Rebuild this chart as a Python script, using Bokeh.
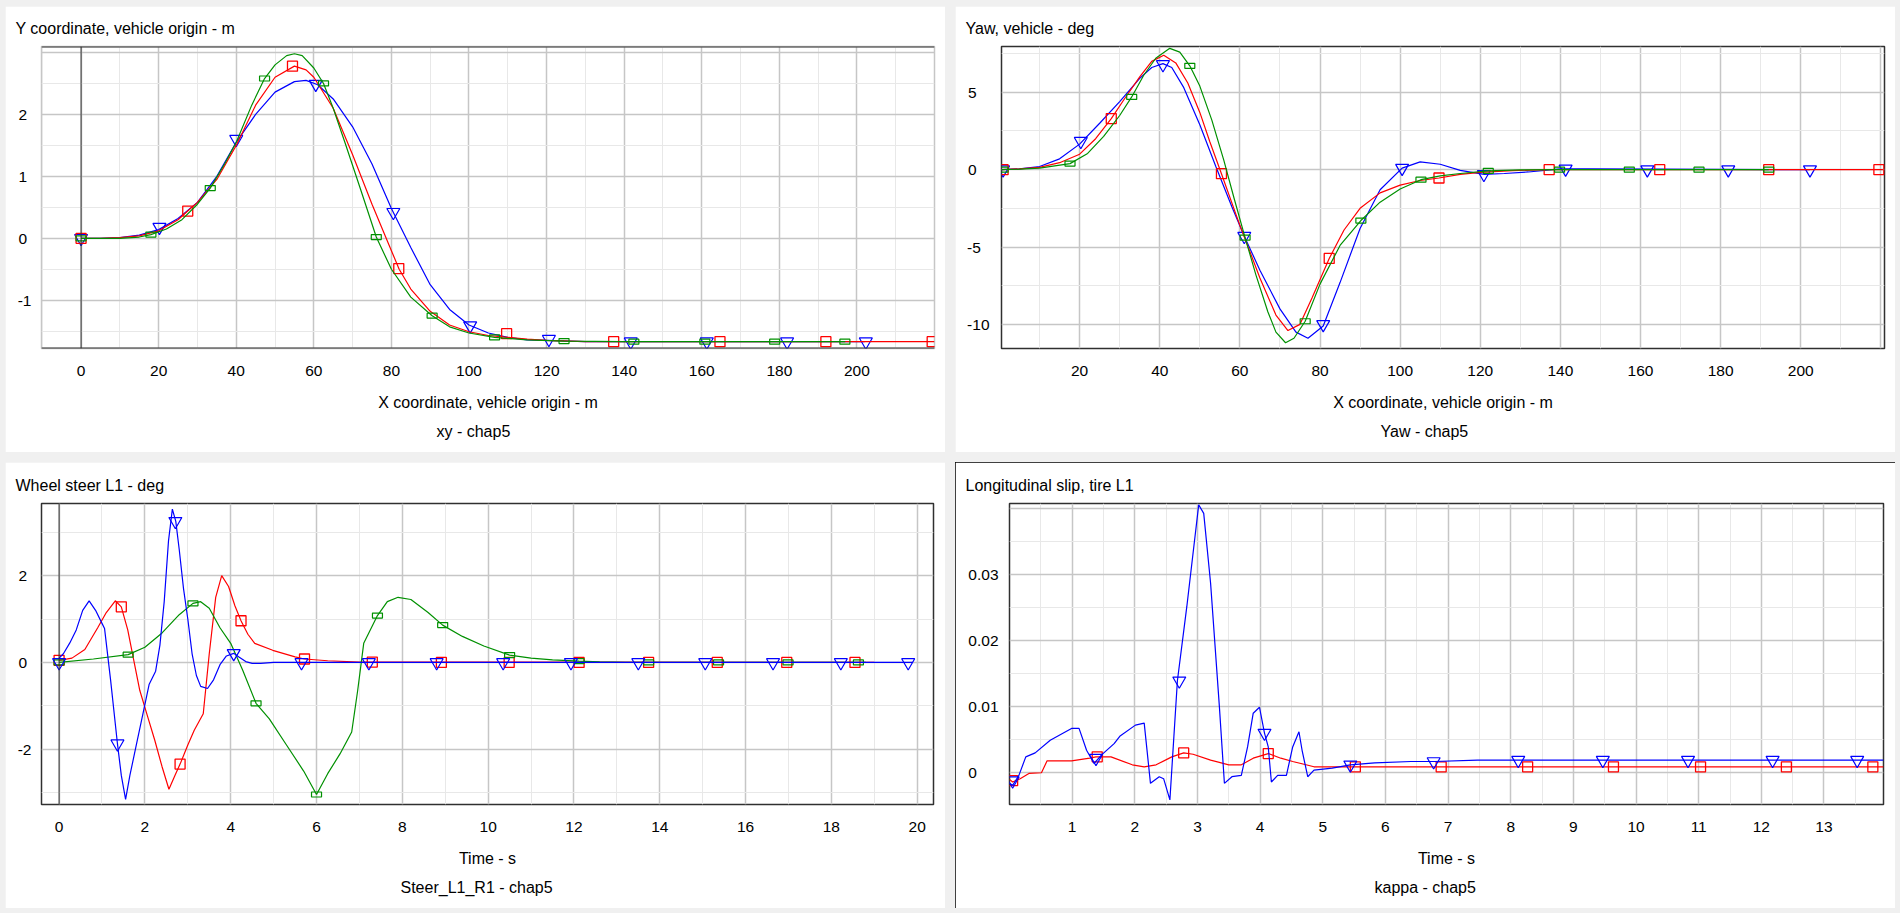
from bokeh.plotting import figure
from bokeh.models import Range1d, FixedTicker, Span, Title
from bokeh.layouts import row, column
from bokeh.embed import file_html
from bokeh.resources import INLINE

FONT = "Liberation Sans"
BLUE, RED, GREEN = "#0000ff", "#ff0000", "#009000"
NB = "\u00a0"

# ---------------- Panel 1: Y vs X ----------------
p1_titles = ["Y coordinate, vehicle origin - m", "X coordinate, vehicle origin - m", "xy - chap5"]
p1_xticks = [0, 20, 40, 60, 80, 100, 120, 140, 160, 180, 200]
p1_xtick_labels = ["0", "20", "40", "60", "80", "100", "120", "140", "160", "180", "200"]
p1_yticks = [2, 1, 0, -1]
p1_ytick_labels = ["2", "1", "0", "-1"]
p1_xmajor = [0, 20, 40, 60, 80, 100, 120, 140, 160, 180, 200, 220]
p1_xminor = [-10, 10, 30, 50, 70, 90, 110, 130, 150, 170, 190, 210]
p1_ymajor = [-1, 0, 1, 2, 3]
p1_yminor = [-1.5, -0.5, 0.5, 1.5, 2.5]

blue1_x = [0, 5, 10, 15, 20, 25, 30, 35, 40, 45, 50, 55, 58, 61, 65, 70, 75, 80, 85, 90, 95, 100, 105, 110, 115, 120, 130, 140, 202]
blue1_y = [0, 0, 0.01, 0.05, 0.14, 0.32, 0.58, 1.0, 1.55, 2.0, 2.36, 2.53, 2.55, 2.48, 2.25, 1.8, 1.2, 0.48, -0.15, -0.75, -1.15, -1.4, -1.53, -1.6, -1.64, -1.65, -1.67, -1.67, -1.67]
red1_x = [0, 5, 10, 15, 20, 25, 27.5, 30, 35, 40, 45, 50, 55, 58, 60, 65, 70, 75, 80, 82, 85, 90, 95, 100, 105, 110, 115, 120, 130, 140, 220]
red1_y = [0, 0, 0.01, 0.04, 0.12, 0.3, 0.44, 0.58, 0.95, 1.5, 2.15, 2.6, 2.78, 2.72, 2.6, 2.1, 1.35, 0.55, -0.2, -0.5, -0.82, -1.18, -1.4, -1.51, -1.57, -1.6, -1.63, -1.65, -1.67, -1.67, -1.67]
green1_x = [0, 5, 10, 15, 18, 22, 26, 30, 33.3, 37, 40, 44, 47.3, 50, 53, 55, 57, 60, 62.5, 65, 68, 72, 76.1, 80, 85, 90.5, 95, 100, 106.6, 115, 124.5, 140, 197]
green1_y = [0, 0, 0, 0.02, 0.06, 0.15, 0.3, 0.55, 0.81, 1.2, 1.55, 2.15, 2.58, 2.8, 2.95, 2.98, 2.95, 2.75, 2.5, 2.1, 1.55, 0.8, 0.02, -0.5, -0.95, -1.25, -1.43, -1.53, -1.6, -1.64, -1.66, -1.67, -1.67]
bm1_x = [0, 20.2, 40, 60.5, 80.5, 100.3, 120.6, 141.7, 161.3, 182, 202.3]
bm1_y = [0, 0.18, 1.6, 2.49, 0.42, -1.41, -1.63, -1.67, -1.67, -1.67, -1.67]
rm1_x = [0, 27.5, 54.5, 81.9, 109.7, 137.3, 164.7, 192, 219.4]
rm1_y = [0, 0.44, 2.78, -0.49, -1.54, -1.67, -1.67, -1.67, -1.67]
gm1_x = [0, 18, 33.3, 47.3, 62.5, 76.1, 90.5, 106.6, 124.5, 142.5, 160.8, 178.8, 196.9]
gm1_y = [0, 0.06, 0.81, 2.58, 2.5, 0.02, -1.25, -1.6, -1.66, -1.67, -1.67, -1.67, -1.67]

# ---------------- Panel 2: Yaw vs X ----------------
p2_titles = ["Yaw, vehicle - deg", "X coordinate, vehicle origin - m", "Yaw - chap5"]
p2_xticks = [20, 40, 60, 80, 100, 120, 140, 160, 180, 200]
p2_xtick_labels = ["20", "40", "60", "80", "100", "120", "140", "160", "180", "200"]
p2_yticks = [5, 0, -5, -10]
p2_ytick_labels = ["5", "0", "-5", "-10"]
p2_xmajor = [20, 40, 60, 80, 100, 120, 140, 160, 180, 200, 220]
p2_xminor = [10, 30, 50, 70, 90, 110, 130, 150, 170, 190, 210]
p2_ymajor = [-10, -5, 0, 5]
p2_yminor = [-7.5, -2.5, 2.5, 7.5]

blue2_x = [0.5, 5, 10, 15, 20, 25, 30, 35, 38, 40.8, 43, 46, 50, 54, 58, 61.1, 65, 70, 74, 77, 80.8, 85, 90, 95, 100.5, 105, 110, 115, 121, 126, 132, 140, 147, 202.3]
blue2_y = [0, 0.05, 0.2, 0.7, 1.65, 3.0, 4.4, 5.9, 6.6, 6.85, 6.6, 5.3, 2.9, 0.2, -2.4, -4.3, -6.5, -9.0, -10.5, -10.9, -10.1, -7.3, -3.8, -1.3, 0.1, 0.5, 0.35, -0.05, -0.3, -0.25, -0.15, 0.05, 0.05, 0]
red2_x = [0.5, 5, 10, 15, 20, 24, 27.9, 31, 35, 38, 41, 44, 47, 50, 52.5, 55.4, 60, 65, 69, 72, 75, 78, 82.3, 86, 90, 95, 100, 105, 109.7, 115, 120, 128, 137, 220.5]
red2_y = [0, 0.05, 0.15, 0.45, 1.0, 2.0, 3.3, 4.5, 6.0, 7.0, 7.4, 6.9, 5.6, 3.7, 1.8, -0.26, -3.6, -7.0, -9.4, -10.4, -10.0, -8.3, -5.74, -3.9, -2.5, -1.5, -1.0, -0.7, -0.54, -0.3, -0.18, -0.06, 0, 0]
green2_x = [0.5, 5, 10, 17.6, 22, 26, 30, 33, 36, 39, 42.5, 45, 47.5, 50, 53, 56, 58.5, 61.3, 64, 67, 69, 71.4, 73.5, 76.3, 80, 85, 90.2, 95, 100, 105.2, 110, 115, 122, 130, 140, 192]
green2_y = [0, 0.03, 0.1, 0.39, 1.05, 2.15, 3.5, 4.7, 6.1, 7.2, 7.84, 7.6, 6.71, 5.4, 3.2, 0.6, -1.8, -4.39, -6.8, -9.2, -10.5, -11.19, -10.9, -9.8, -7.4, -4.9, -3.29, -2.1, -1.25, -0.65, -0.4, -0.25, -0.08, -0.02, 0, 0]
bm2_x = [0.9, 20.3, 40.8, 61.1, 80.8, 100.5, 120.9, 141.3, 161.7, 181.9, 202.3]
bm2_y = [0, 1.84, 6.8, -4.3, -10.0, 0.1, -0.3, 0.05, 0, 0, 0]
rm2_x = [0.9, 27.9, 55.4, 82.3, 109.7, 137.2, 164.8, 192, 219.5]
rm2_y = [0, 3.3, -0.26, -5.74, -0.54, 0, 0, 0, 0]
gm2_x = [0.9, 17.6, 33, 47.5, 61.3, 76.3, 90.2, 105.2, 122, 139.8, 157.2, 174.6, 192]
gm2_y = [0, 0.39, 4.7, 6.71, -4.39, -9.8, -3.29, -0.65, -0.08, 0, 0, 0, 0]

# ---------------- Panel 3: Wheel steer vs time ----------------
p3_titles = ["Wheel steer L1 - deg", "Time - s", "Steer_L1_R1 - chap5"]
p3_xticks = [0, 2, 4, 6, 8, 10, 12, 14, 16, 18, 20]
p3_xtick_labels = ["0", "2", "4", "6", "8", "10", "12", "14", "16", "18", "20"]
p3_yticks = [2, 0, -2]
p3_ytick_labels = ["2", "0", "-2"]
p3_xmajor = [0, 2, 4, 6, 8, 10, 12, 14, 16, 18, 20]
p3_xminor = [1, 3, 5, 7, 9, 11, 13, 15, 17, 19]
p3_ymajor = [-2, 0, 2]
p3_yminor = [-3, -1, 1, 3]

blue3_t = [0, 0.1, 0.25, 0.4, 0.55, 0.7, 0.85, 1.0, 1.06, 1.2, 1.36, 1.45, 1.55, 1.65, 1.8, 1.95, 2.1, 2.25, 2.35, 2.45, 2.55, 2.64, 2.72, 2.8, 2.9, 3.0, 3.1, 3.2, 3.3, 3.46, 3.6, 3.75, 3.9, 4.07, 4.2, 4.35, 4.5, 4.7, 5.0, 19.9]
blue3_s = [0.1, 0.2, 0.45, 0.75, 1.2, 1.42, 1.2, 0.9, 0.78, -0.4, -1.87, -2.6, -3.15, -2.6, -1.9, -1.2, -0.5, -0.2, 0.4, 1.4, 2.8, 3.53, 3.25, 2.6, 1.7, 1.0, 0.2, -0.3, -0.55, -0.6, -0.4, -0.05, 0.15, 0.21, 0.12, 0.02, -0.02, -0.02, 0, 0]
red3_t = [0, 0.3, 0.6, 0.9, 1.1, 1.31, 1.45, 1.6, 1.75, 1.88, 2.05, 2.23, 2.4, 2.56, 2.7, 2.82, 3.0, 3.15, 3.36, 3.5, 3.65, 3.79, 3.95, 4.1, 4.24, 4.4, 4.56, 4.98, 5.5, 5.72, 6.26, 7.0, 19.0]
red3_s = [0.05, 0.1, 0.3, 0.8, 1.15, 1.42, 1.28, 0.75, 0.0, -0.64, -1.2, -1.79, -2.4, -2.92, -2.6, -2.34, -1.9, -1.56, -1.18, 0.2, 1.5, 2.0, 1.75, 1.3, 0.96, 0.65, 0.44, 0.28, 0.13, 0.08, 0.04, 0.01, 0]
green3_t = [0, 0.8, 1.61, 2.0, 2.4, 2.8, 3.12, 3.3, 3.5, 3.75, 4.0, 4.28, 4.59, 4.9, 5.3, 5.7, 6.0, 6.26, 6.55, 6.82, 6.96, 7.1, 7.42, 7.65, 7.9, 8.2, 8.6, 8.94, 9.4, 9.9, 10.5, 11.0, 11.5, 12.12, 12.6, 13.2, 18.8]
green3_s = [0, 0.08, 0.18, 0.35, 0.68, 1.1, 1.36, 1.4, 1.25, 0.8, 0.44, -0.18, -0.94, -1.3, -1.9, -2.5, -3.04, -2.56, -2.1, -1.6, -0.64, 0.44, 1.08, 1.4, 1.5, 1.45, 1.15, 0.86, 0.6, 0.38, 0.17, 0.1, 0.06, 0.03, 0.015, 0.005, 0]
bm3_t = [0, 1.36, 2.71, 4.07, 5.65, 7.22, 8.8, 10.35, 11.93, 13.5, 15.06, 16.64, 18.22, 19.79]
bm3_s = [0, -1.87, 3.25, 0.21, 0, 0, 0, 0, 0, 0, 0, 0, 0, 0]
rm3_t = [0, 1.45, 2.82, 4.24, 5.72, 7.3, 8.91, 10.49, 12.12, 13.74, 15.34, 16.96, 18.55]
rm3_s = [0.05, 1.28, -2.34, 0.96, 0.08, 0.01, 0, 0, 0, 0, 0, 0, 0]
gm3_t = [0, 1.61, 3.12, 4.59, 6.0, 7.42, 8.94, 10.5, 12.12, 13.74, 15.37, 16.99, 18.63]
gm3_s = [0, 0.18, 1.36, -0.94, -3.04, 1.08, 0.86, 0.17, 0.03, 0, 0, 0, 0]

# ---------------- Panel 4: Longitudinal slip vs time ----------------
p4_titles = ["Longitudinal slip, tire L1", "Time - s", "kappa - chap5"]
p4_xticks = [1, 2, 3, 4, 5, 6, 7, 8, 9, 10, 11, 12, 13]
p4_xtick_labels = ["1", "2", "3", "4", "5", "6", "7", "8", "9", "10", "11", "12", "13"]
p4_yticks = [0.03, 0.02, 0.01, 0]
p4_ytick_labels = ["0.03", "0.02", "0.01", "0"]
p4_xmajor = [0, 1, 2, 3, 4, 5, 6, 7, 8, 9, 10, 11, 12, 13]
p4_xminor = [0.5, 1.5, 2.5, 3.5, 4.5, 5.5, 6.5, 7.5, 8.5, 9.5, 10.5, 11.5, 12.5, 13.5]
p4_ymajor = [0, 0.01, 0.02, 0.03, 0.04]
p4_yminor = [0.005, 0.015, 0.025, 0.035]

blue4_t = [0, 0.05, 0.15, 0.26, 0.41, 0.65, 0.99, 1.11, 1.23, 1.35, 1.47, 1.67, 1.76, 2.01, 2.15, 2.25, 2.39, 2.46, 2.56, 2.68, 2.83, 3.02, 3.10, 3.21, 3.35, 3.43, 3.55, 3.70, 3.80, 3.89, 3.99, 4.07, 4.13, 4.18, 4.28, 4.42, 4.52, 4.62, 4.67, 4.76, 4.86, 5.15, 5.44, 5.83, 6.41, 6.79, 7.47, 13.95]
blue4_k = [-0.0016, -0.0019, -0.0004, 0.0024, 0.003, 0.0049, 0.0067, 0.0067, 0.0034, 0.0014, 0.0027, 0.0044, 0.0055, 0.0072, 0.0075, -0.0016, -0.0006, -0.0009, -0.0041, 0.0139, 0.0251, 0.0405, 0.0392, 0.0286, 0.01, -0.0016, -0.0006, -0.0004, 0.0039, 0.009, 0.0099, 0.006, 0.0039, -0.0014, -0.0004, -0.0004, 0.0039, 0.0062, 0.0034, -0.0006, 0.0004, 0.0007, 0.0012, 0.0015, 0.0017, 0.0017, 0.0019, 0.0019]
red4_t = [0, 0.05, 0.17, 0.31, 0.51, 0.6, 0.99, 1.28, 1.38, 1.62, 1.96, 2.15, 2.34, 2.59, 2.78, 2.93, 3.21, 3.5, 3.7, 3.89, 4.13, 4.33, 4.52, 4.86, 13.95]
red4_k = [-0.001, -0.0014, -0.0009, -0.0001, 0.0, 0.0018, 0.0018, 0.0022, 0.0024, 0.0024, 0.0012, 0.0009, 0.0012, 0.0024, 0.003, 0.0028, 0.0019, 0.0012, 0.0012, 0.0022, 0.0029, 0.0022, 0.0017, 0.0009, 0.0009]
bm4_t = [0.05, 1.38, 2.71, 4.07, 5.44, 6.77, 8.12, 9.47, 10.83, 12.18, 13.53]
bm4_k = [-0.0012, 0.0022, 0.0139, 0.006, 0.0012, 0.0017, 0.0019, 0.0019, 0.0019, 0.0019, 0.0019]
rm4_t = [0.05, 1.4, 2.78, 4.13, 5.52, 6.89, 8.27, 9.64, 11.03, 12.4, 13.78]
rm4_k = [-0.0012, 0.0024, 0.003, 0.0029, 0.0009, 0.0009, 0.0009, 0.0009, 0.0009, 0.0009, 0.0009]

# Approximate Arial advance widths (em) used to left-align right-aligned tick labels
CHAR_W = {"-": 0.333, ".": 0.278}


def text_em(s):
    return sum(CHAR_W.get(c, 0.556) for c in s)


def left_pad(labels):
    wmax = max(text_em(s) for s in labels)
    out = []
    for s in labels:
        n = int(round((wmax - text_em(s)) / 0.278))
        out.append(s + NB * n)
    return out


def make_panel(xr, yr, borders, titles, xticks, xtick_labels, yticks, ytick_labels,
               xmajor, xminor, ymajor, yminor, ystandoff, title_off, sub_off,
               outline="#303030"):
    left, right, top, bottom = borders
    p = figure(width=940, height=446, output_backend="svg", toolbar_location=None,
               x_range=Range1d(*xr), y_range=Range1d(*yr), title=titles[0],
               min_border_left=left, min_border_right=right,
               min_border_top=top, min_border_bottom=bottom)
    p.background_fill_color = "white"
    p.border_fill_color = "white"
    p.outline_line_color = outline
    p.outline_line_width = 1.5
    # title (top-left)
    p.title.align = "left"
    p.title.offset = title_off
    p.title.text_font = FONT
    p.title.text_font_size = "16px"
    p.title.text_font_style = "normal"
    p.title.text_color = "black"
    p.title.standoff = 19
    # grids
    p.xgrid.ticker = FixedTicker(ticks=xmajor, minor_ticks=xminor)
    p.ygrid.ticker = FixedTicker(ticks=ymajor, minor_ticks=yminor)
    for g in (p.xgrid, p.ygrid):
        g.grid_line_color = "#c6c6c6"
        g.grid_line_width = 1.5
        g.minor_grid_line_color = "#e8e8e8"
        g.minor_grid_line_width = 1
    # x axis
    ax = p.xaxis[0]
    ax.ticker = FixedTicker(ticks=xticks)
    ax.major_label_overrides = {float(v): t for v, t in zip(xticks, xtick_labels)}
    ax.axis_label = titles[1]
    ax.axis_label_standoff = 15
    ax.major_label_standoff = 17
    # y axis
    ay = p.yaxis[0]
    ay.ticker = FixedTicker(ticks=yticks)
    ay.major_label_overrides = {float(v): t for v, t in zip(yticks, left_pad(ytick_labels))}
    ay.major_label_standoff = ystandoff
    for a in (ax, ay):
        a.axis_line_color = None
        a.major_tick_line_color = None
        a.minor_tick_line_color = None
        a.major_tick_out = 0
        a.minor_tick_out = 0
        a.major_label_text_font = FONT
        a.major_label_text_font_size = "15.5px"
        a.major_label_text_color = "black"
        a.axis_label_text_font = FONT
        a.axis_label_text_font_size = "16px"
        a.axis_label_text_font_style = "normal"
        a.axis_label_text_color = "black"
    # subtitle below
    p.add_layout(Title(text=titles[2], align="left", offset=sub_off, text_font=FONT,
                       text_font_size="16px", text_font_style="normal",
                       text_color="black", standoff=14), "below")
    return p


def add_series(p, x, y, mx, my, color, kind):
    p.line(x, y, line_color=color, line_width=1.2)
    if kind == "tri":
        p.scatter(mx, my, marker="inverted_triangle", size=13, fill_color=None,
                  line_color=color, line_width=1.2)
    elif kind == "sq":
        p.scatter(mx, my, marker="square", size=10, fill_color=None,
                  line_color=color, line_width=1.3)
    else:
        p.rect(mx, my, width=10, height=5, width_units="screen", height_units="screen",
               fill_color=None, line_color=color, line_width=1.2)


# Panel 1
p1 = make_panel((-10.2, 220), (-1.78, 3.097), (36, 11, 40, 104), p1_titles,
                p1_xticks, p1_xtick_labels, p1_yticks, p1_ytick_labels,
                p1_xmajor, p1_xminor, p1_ymajor, p1_yminor, 10, -26, 395,
                outline="#c6c6c6")
p1.add_layout(Span(location=0, dimension="height", line_color="#303030", line_width=1))
p1.add_layout(Span(location=3.097, dimension="width", line_color="#303030", line_width=2))
p1.add_layout(Span(location=-1.78, dimension="width", line_color="#303030", line_width=2))
add_series(p1, blue1_x, blue1_y, bm1_x, bm1_y, BLUE, "tri")
add_series(p1, red1_x, red1_y, rm1_x, rm1_y, RED, "sq")
add_series(p1, green1_x, green1_y, gm1_x, gm1_y, GREEN, "rect")

# Panel 2
p2 = make_panel((0.5, 220.9), (-11.56, 7.96), (46, 11, 40, 104), p2_titles,
                p2_xticks, p2_xtick_labels, p2_yticks, p2_ytick_labels,
                p2_xmajor, p2_xminor, p2_ymajor, p2_yminor, 12, -36, 379)
add_series(p2, blue2_x, blue2_y, bm2_x, bm2_y, BLUE, "tri")
add_series(p2, red2_x, red2_y, rm2_x, rm2_y, RED, "sq")
add_series(p2, green2_x, green2_y, gm2_x, gm2_y, GREEN, "rect")

# Panel 3
p3 = make_panel((-0.41, 20.38), (-3.27, 3.66), (36, 12, 41, 104), p3_titles,
                p3_xticks, p3_xtick_labels, p3_yticks, p3_ytick_labels,
                p3_xmajor, p3_xminor, p3_ymajor, p3_yminor, 10, -26, 359)
p3.add_layout(Span(location=0, dimension="height", line_color="#303030", line_width=1))
add_series(p3, red3_t, red3_s, rm3_t, rm3_s, RED, "sq")
add_series(p3, green3_t, green3_s, gm3_t, gm3_s, GREEN, "rect")
add_series(p3, blue3_t, blue3_s, bm3_t, bm3_s, BLUE, "tri")

# Panel 4
p4 = make_panel((0, 13.95), (-0.0048, 0.0407), (54, 12, 41, 104), p4_titles,
                p4_xticks, p4_xtick_labels, p4_yticks, p4_ytick_labels,
                p4_xmajor, p4_xminor, p4_ymajor, p4_yminor, 11, -44, 365)
p4.styles = {"outline": "2px solid black", "outline-offset": "-2px"}
add_series(p4, red4_t, red4_k, rm4_t, rm4_k, RED, "sq")
add_series(p4, blue4_t, blue4_k, bm4_t, bm4_k, BLUE, "tri")

layout = column(row(p1, p2, spacing=10), row(p3, p4, spacing=10), spacing=10,
                styles={"background-color": "#f0f0f0", "margin": "6px 0 0 5px",
                        "box-shadow": "0 0 0 14px #f0f0f0"})

open("out.html", "w").write(file_html(layout, INLINE))
